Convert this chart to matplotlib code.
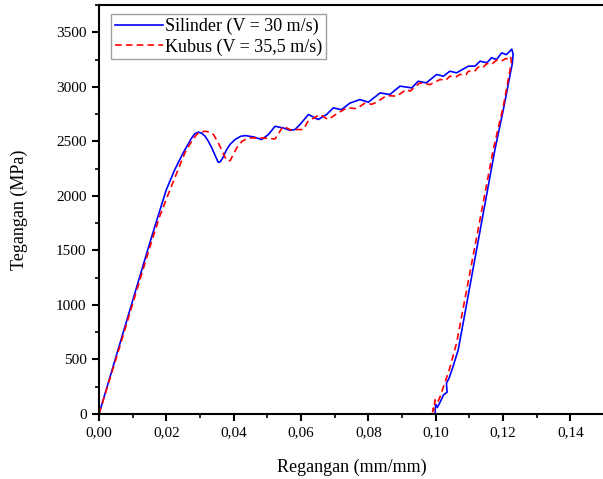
import matplotlib
matplotlib.use("Agg")
import matplotlib.pyplot as plt
from matplotlib.ticker import MultipleLocator, FuncFormatter

plt.rcParams['font.family'] = ['Liberation Serif', 'DejaVu Serif']

# Silinder (V = 30 m/s)
sil_x = [0.0, 0.005, 0.010, 0.015, 0.0175, 0.020, 0.0225, 0.025, 0.0275, 0.0285,
         0.0295, 0.0305, 0.0315, 0.0325, 0.0335, 0.0345, 0.0354, 0.0360, 0.0367, 0.0379,
         0.0390, 0.0404, 0.0420, 0.0434, 0.046, 0.0483, 0.0503, 0.0523, 0.0547, 0.0567,
         0.0582, 0.0597, 0.0622, 0.0651, 0.0676, 0.0696, 0.0720, 0.0745, 0.0775, 0.0800,
         0.0835, 0.0864, 0.0894, 0.0929, 0.0948, 0.0972, 0.1003, 0.1023, 0.1042, 0.1062,
         0.1097, 0.1117, 0.1132, 0.1152, 0.1166, 0.1181, 0.1196, 0.1210, 0.1226, 0.1230,
         0.1228, 0.1201, 0.1176, 0.1067, 0.1050, 0.1040, 0.1032, 0.1034, 0.1023, 0.1015,
         0.1005, 0.1000, 0.0998]
sil_y = [0, 520, 1040, 1560, 1810, 2057, 2240, 2394, 2530, 2570,
         2584, 2575, 2547, 2500, 2440, 2370, 2308, 2312, 2345, 2424,
         2475, 2516, 2545, 2553, 2540, 2516, 2562, 2638, 2623, 2601,
         2608, 2654, 2746, 2700, 2746, 2807, 2790, 2850, 2883, 2859,
         2944, 2929, 3006, 2990, 3051, 3036, 3113, 3097, 3143, 3128,
         3189, 3190, 3235, 3220, 3266, 3250, 3311, 3295, 3345, 3300,
         3219, 2791, 2424, 588, 420, 330, 281, 200, 174, 120,
         60, 90, 0]

# Kubus (V = 35,5 m/s)
kub_x = [0.0, 0.005, 0.010, 0.015, 0.018, 0.0211, 0.0255, 0.0275, 0.029, 0.0302,
         0.0315, 0.0328, 0.034, 0.0352, 0.0364, 0.0375, 0.0384, 0.0390, 0.0398, 0.0409,
         0.0425, 0.0443, 0.0483, 0.0523, 0.0547, 0.0572, 0.0588, 0.0607, 0.0620, 0.0656,
         0.0681, 0.0710, 0.0736, 0.0765, 0.0790, 0.0810, 0.0825, 0.0854, 0.0884, 0.0913,
         0.0924, 0.0953, 0.0983, 0.1013, 0.1030, 0.1042, 0.1060, 0.1072, 0.1090, 0.1097,
         0.1115, 0.1127, 0.1140, 0.1152, 0.1165, 0.1181, 0.1195, 0.1206, 0.1216, 0.1222,
         0.1225, 0.1221, 0.1201, 0.1171, 0.1062, 0.1040, 0.1013, 0.1005, 0.0998, 0.0995,
         0.0993, 0.0990]
kub_y = [0, 500, 1010, 1520, 1810, 2057, 2394, 2500, 2562, 2588,
         2592, 2585, 2562, 2500, 2424, 2350, 2317, 2325, 2375, 2440,
         2500, 2531, 2531, 2522, 2638, 2601, 2608, 2608, 2680, 2746,
         2700, 2760, 2807, 2800, 2850, 2840, 2859, 2920, 2914, 2975,
         2960, 3036, 3020, 3067, 3060, 3097, 3090, 3113, 3110, 3143,
         3140, 3182, 3175, 3213, 3205, 3244, 3235, 3256, 3260, 3280,
         3230, 3159, 2822, 2424, 649, 400, 159, 100, 130, 40,
         55, 0]

fig = plt.figure(figsize=(6.03, 4.79), dpi=100)
ax = fig.add_axes([99/603, 65/479, 505/603, 409/479])

ax.plot(sil_x, sil_y, color='#0000ff', lw=1.2, label='Silinder (V = 30 m/s)')
ax.plot(kub_x, kub_y, color='#ff0000', lw=1.2, dashes=(4, 2.5), label='Kubus (V = 35,5 m/s)')

ax.set_xlim(0, 0.15)
ax.set_ylim(0, 3750)
ax.xaxis.set_major_locator(MultipleLocator(0.02))
ax.xaxis.set_minor_locator(MultipleLocator(0.01))
ax.yaxis.set_major_locator(MultipleLocator(500))
ax.yaxis.set_minor_locator(MultipleLocator(250))
ax.xaxis.set_major_formatter(FuncFormatter(lambda v, p: f"{v:.2f}".replace('.', ',')))
ax.yaxis.set_major_formatter(FuncFormatter(lambda v, p: f"{int(round(v))}"))

for s in ['left', 'bottom', 'top']:
    ax.spines[s].set_linewidth(1.5)
ax.spines['right'].set_visible(False)
ax.tick_params(which='major', direction='out', length=5, width=1.5, labelsize=11, pad=4)
ax.tick_params(which='minor', direction='out', length=3, width=1.2)
ax.tick_params(top=False, right=False, which='both')

ax.set_xlabel('Regangan (mm/mm)', fontsize=13, labelpad=14)
ax.set_ylabel('Tegangan (MPa)', fontsize=13, labelpad=20)

leg = ax.legend(loc='upper left', bbox_to_anchor=(0.024, 0.978), borderaxespad=0,
                fontsize=13, frameon=True, fancybox=False, edgecolor='#888888',
                handlelength=2.7, handletextpad=0.1, borderpad=0.2, labelspacing=0.2)
leg.get_frame().set_linewidth(1.0)

fig.savefig('out.png', dpi=100)
